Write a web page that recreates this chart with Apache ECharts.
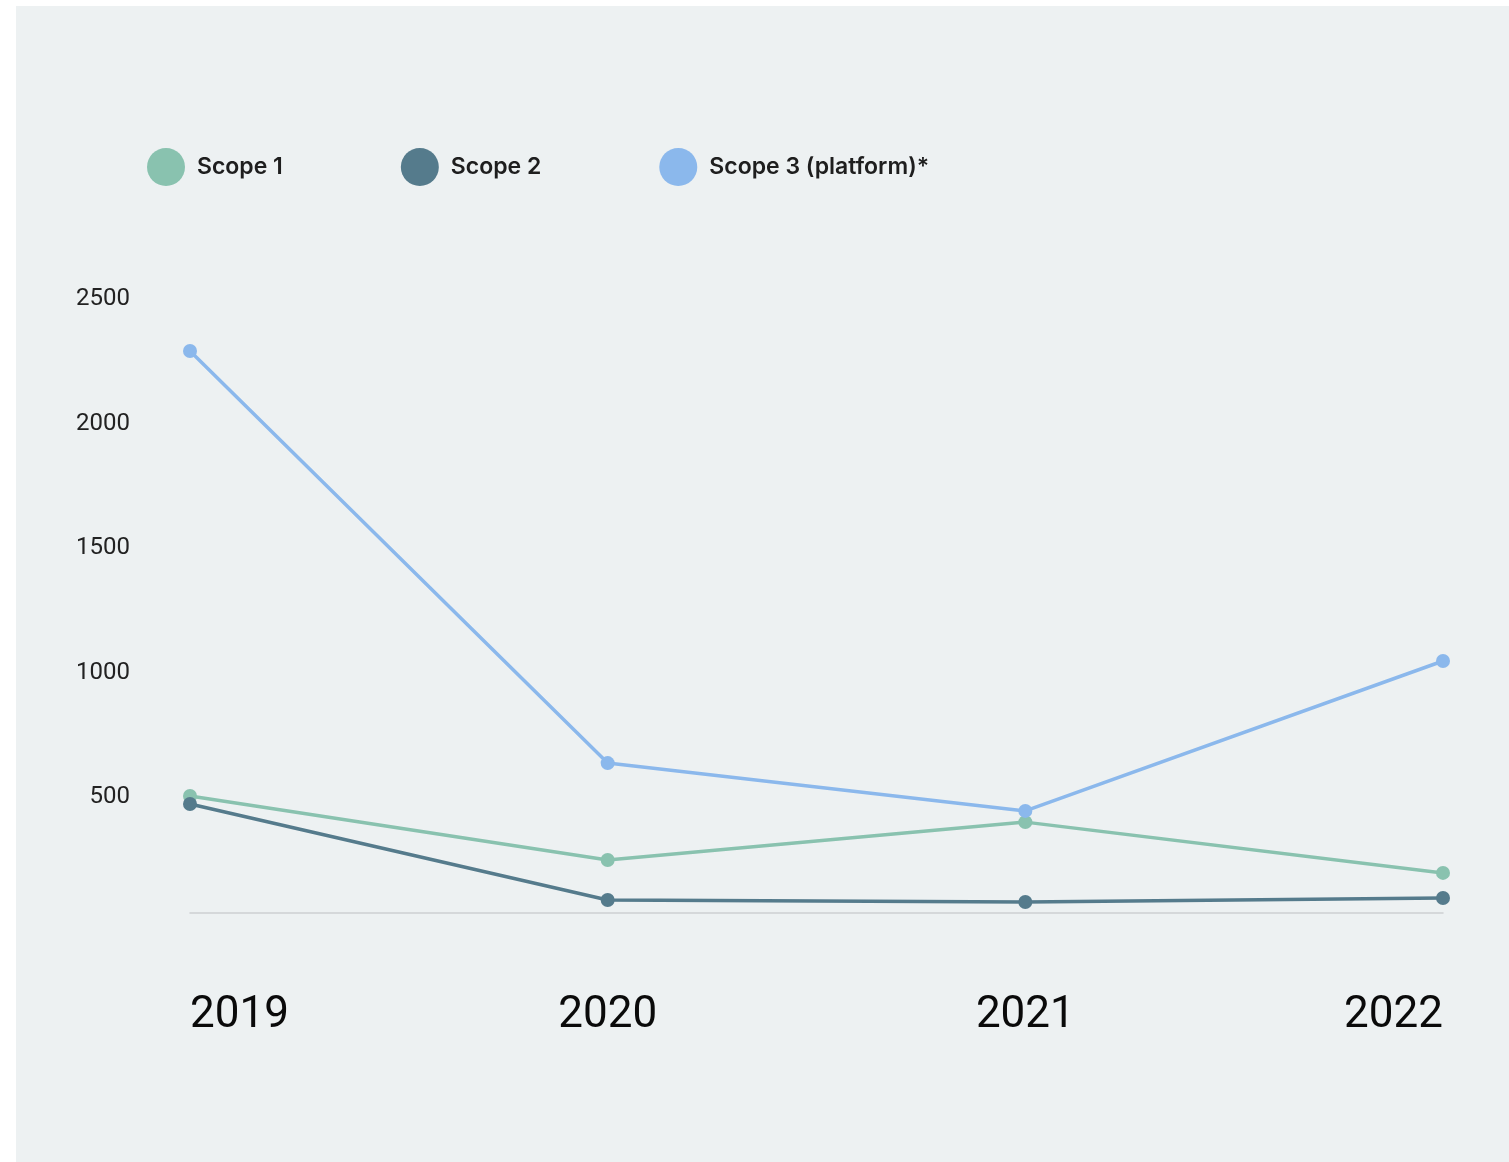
<!DOCTYPE html>
<html>
<head>
<meta charset="utf-8">
<script src="https://cdn.jsdelivr.net/npm/echarts@6/dist/echarts.min.js"></script>
<style>
  html, body { margin: 0; padding: 0; background: #fff; }
  #chart { position: absolute; left: 16px; top: 6px; width: 1493px; height: 1156px; }
</style>
</head>
<body>
<div id="chart"></div>
<script>
// 年份
const years = ['2019', '2020', '2021', '2022'];
// 排放数据
const scope1 = [470, 213, 365, 161];
const scope2 = [438, 52, 44, 60];
const scope3 = [2257, 602, 410, 1012];

const seriesNames = ['Scope 1', 'Scope 2', 'Scope 3 (platform)*'];
const colors = ['#89c2af', '#557b8c', '#8bb8ec'];

const chart = echarts.init(document.getElementById('chart'));

const makeLine = (name, data, color) => ({
  name: name,
  type: 'line',
  data: data,
  symbol: 'circle',
  symbolSize: 14,
  lineStyle: { width: 3.5, color: color },
  itemStyle: { color: color },
  z: 3,
});

chart.setOption({
  backgroundColor: '#edf1f2',
  animation: false,
  textStyle: { fontFamily: 'Roboto, sans-serif' },
  legend: {
    left: 126,
    top: 137,
    icon: 'circle',
    itemWidth: 38,
    itemHeight: 38,
    itemGap: 118,
    textStyle: {
      fontFamily: 'Inter, sans-serif',
      fontSize: 23,
      fontWeight: 600,
      color: '#1e1e1e',
      padding: [0, 0, 0, 7],
    },
    data: seriesNames,
  },
  grid: {
    left: 174,
    right: 66,
    top: 284.5,
    bottom: 249,
    containLabel: false,
  },
  xAxis: {
    type: 'category',
    data: years,
    boundaryGap: false,
    axisLine: { show: true, lineStyle: { color: '#cdd0d2', width: 1.5 } },
    axisTick: { show: false },
    axisLabel: {
      fontSize: 44,
      lineHeight: 44,
      color: '#0a0a0a',
      margin: 81,
      alignMinLabel: 'left',
      alignMaxLabel: 'right',
    },
  },
  yAxis: {
    type: 'value',
    min: 0,
    max: 2500,
    interval: 500,
    axisLine: { show: false },
    axisTick: { show: false },
    splitLine: { show: false },
    axisLabel: {
      showMinLabel: false,
      fontSize: 24,
      color: '#222',
      margin: 60,
      verticalAlign: 'top',
      lineHeight: 17,
      formatter: v => String(v),
    },
  },
  series: [
    makeLine(seriesNames[0], scope1, colors[0]),
    makeLine(seriesNames[1], scope2, colors[1]),
    makeLine(seriesNames[2], scope3, colors[2]),
  ],
});
</script>
</body>
</html>
